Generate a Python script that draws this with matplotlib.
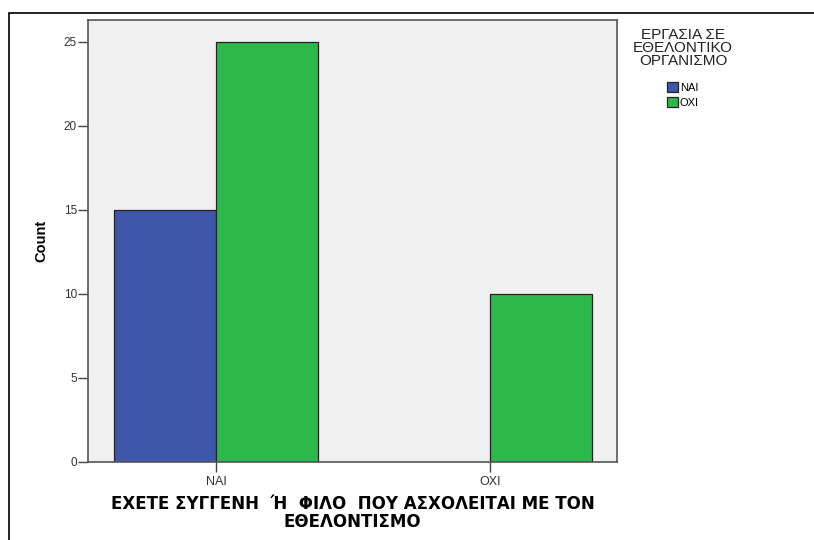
import numpy as np
import matplotlib.pyplot as plt
from matplotlib.patches import Rectangle

categories = ['ΝΑΙ', 'ΟΧΙ']
series_labels = ['ΝΑΙ', 'ΟΧΙ']
count_nai = [15, 0]
count_oxi = [25, 10]
y_ticks = [0, 5, 10, 15, 20, 25]

colors = ['#3E57AB', '#2DB84B']
narrow = ['Liberation Sans Narrow', 'Liberation Sans', 'DejaVu Sans']
plt.rcParams['font.family'] = ['Liberation Sans', 'DejaVu Sans']

fig = plt.figure(figsize=(8.14, 5.40), dpi=100)
ax = fig.add_axes([88 / 814, 78 / 540, 529 / 814, 442 / 540])
ax.set_facecolor('#F0F0F0')

# outer frame of the output viewer
fig.patches.append(Rectangle((9 / 814, -0.1), 1.2, (540 - 13) / 540 + 0.1,
                             transform=fig.transFigure, fill=False,
                             edgecolor='black', linewidth=1.2))

x = np.arange(len(categories))
width = 0.372
for i, (vals, lab) in enumerate(zip([count_nai, count_oxi], series_labels)):
    heights = [v if v > 0 else np.nan for v in vals]
    ax.bar(x + (i - 0.5) * width, heights, width, color=colors[i],
           edgecolor='#222222', linewidth=0.9, label=lab)

ax.set_xlim(-0.467, 1.464)
ax.set_ylim(0, 26.3)
ax.set_yticks(y_ticks)
ax.set_xticks(x)
ax.set_xticklabels(categories, family=narrow, fontsize=9, color='#333333')
ax.tick_params(axis='y', direction='out', length=7, width=1, color='#444444',
               labelsize=8.5, labelcolor='#333333', pad=1)
ax.tick_params(axis='x', direction='out', length=7, width=1, color='#444444', pad=3)
for s in ax.spines.values():
    s.set_color('#555555')
    s.set_linewidth(1.2)

ax.set_ylabel('Count', fontsize=10.5, fontweight='bold', family=narrow, labelpad=11)
ax.set_xlabel('ΕΧΕΤΕ ΣΥΓΓΕΝΗ  Ή  ΦΙΛΟ  ΠΟΥ ΑΣΧΟΛΕΙΤΑΙ ΜΕ ΤΟΝ\nΕΘΕΛΟΝΤΙΣΜΟ',
              fontsize=12, fontweight='bold', family=['DejaVu Sans'], labelpad=5,
              linespacing=1.0)

leg = fig.legend(loc='upper center', bbox_to_anchor=(683 / 814, 1 - 22 / 540),
                 title='ΕΡΓΑΣΙΑ ΣΕ\nΕΘΕΛΟΝΤΙΚΟ\nΟΡΓΑΝΙΣΜΟ', frameon=False,
                 alignment='center',
                 fontsize=8, title_fontsize=11, handlelength=1.0, handleheight=0.95,
                 handletextpad=0.15, labelspacing=0.4, borderpad=0)
leg.get_title().set_linespacing(0.95)
leg.get_title().set_multialignment('center')
leg.get_title().set_color('#222222')
leg._legend_box.sep = 10

fig.savefig('out.png', dpi=100)
